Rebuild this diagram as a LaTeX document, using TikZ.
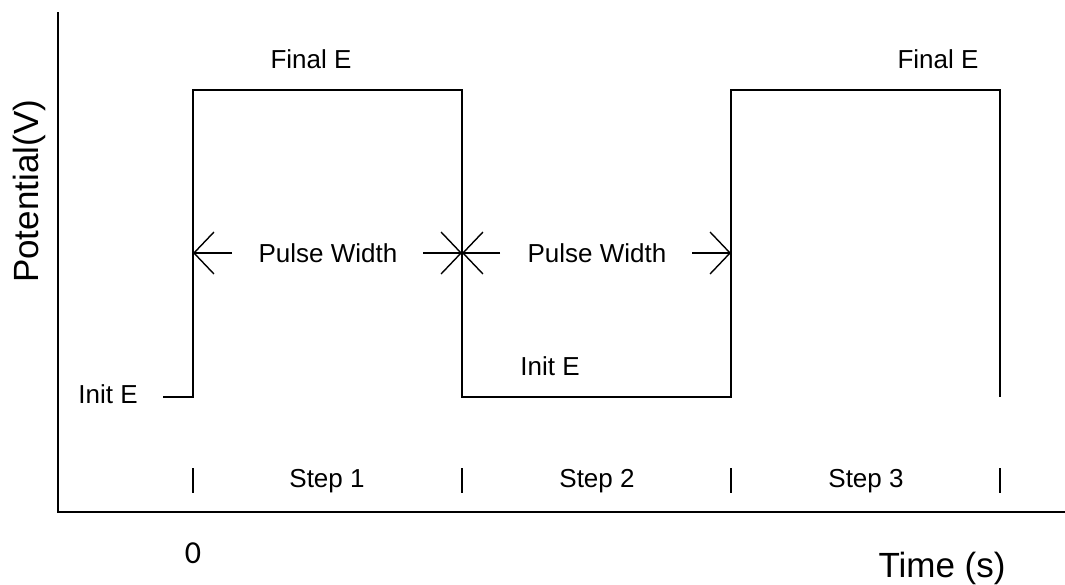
\documentclass[tikz,border=0pt]{standalone}
\usepackage{fontspec}
\setmainfont{Liberation Sans}
\newfontfamily\calib{Carlito}
\usetikzlibrary{arrows.meta}
\begin{document}
\begin{tikzpicture}[x=1pt,y=-1pt,
  ln/.style={line width=1.7pt, line cap=butt},
  tk/.style={line width=1.3pt},
  barb/.style={line width=1.4pt, -{Straight Barb[length=20pt,width=42pt,line width=1.4pt]}},
  lbl/.style={inner sep=0pt, font=\fontsize{26}{30}\selectfont},
  big/.style={inner sep=0pt, font=\fontsize{35}{40}\selectfont}]
\useasboundingbox (0,0) rectangle (1065,584);
% axes
\coordinate (ytop) at (58,12);
\coordinate (org) at (58,512);
\coordinate (xend) at (1065,512);
\draw[ln] (ytop) -- (org) -- (xend);
% waveform
\coordinate (s0) at (163,397);
\coordinate (a1) at (193,397);
\coordinate (a2) at (193,90);
\coordinate (b1) at (462,90);
\coordinate (b2) at (462,397);
\coordinate (c1) at (731,397);
\coordinate (c2) at (731,90);
\coordinate (d1) at (1000,90);
\coordinate (d2) at (1000,397);
\draw[ln, line join=miter] (s0) -- (a1) -- (a2) -- (b1) -- (b2) -- (c1) -- (c2) -- (d1) -- (d2);
% step ticks
\foreach \x in {193,462,731,1000}
  \draw[tk] (\x,468) -- (\x,493);
% pulse width arrows
\node[lbl, anchor=base] (pw1) at (328,262) {Pulse Width};
\node[lbl, anchor=base] (pw2) at (597,262) {Pulse Width};
\coordinate (p1a) at (232,253);
\coordinate (p1b) at (193,253);
\coordinate (p1c) at (423,253);
\coordinate (p1d) at (462,253);
\coordinate (p2a) at (500,253);
\coordinate (p2c) at (692,253);
\coordinate (p2d) at (731,253);
\draw[barb] (p1a) -- (p1b);
\draw[barb] (p1c) -- (p1d);
\draw[barb] (p2a) -- (p1d);
\draw[barb] (p2c) -- (p2d);
% labels
\node[lbl, anchor=base] (fe1) at (311,68) {Final E};
\node[lbl, anchor=base] (fe2) at (938,68) {Final E};
\node[lbl, anchor=base] (ie1) at (108,403) {Init E};
\node[lbl, anchor=base] (ie2) at (550,375) {Init E};
\node[lbl, anchor=base] (st1) at (327,487) {Step 1};
\node[lbl, anchor=base] (st2) at (597,487) {Step 2};
\node[lbl, anchor=base] (st3) at (866,487) {Step 3};
\node[inner sep=0pt, anchor=base, font=\calib\fontsize{32}{36}\selectfont] (zero) at (193,563) {0};
\node[big, anchor=base] (tm) at (942,577) {Time (s)};
\node[big, anchor=base west, rotate=90] (pot) at (38,283) {Potential(V)};
\end{tikzpicture}
\end{document}
